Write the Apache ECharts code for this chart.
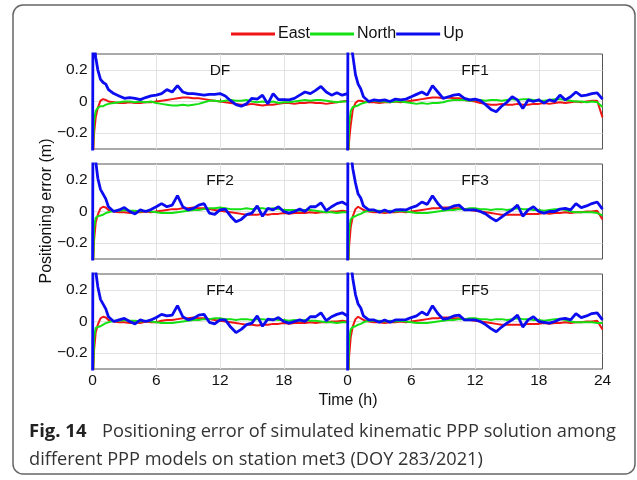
<!DOCTYPE html>
<html>
<head>
<meta charset="utf-8">
<script src="https://cdn.jsdelivr.net/npm/echarts@6/dist/echarts.min.js"></script>
<style>
  html, body { margin: 0; padding: 0; background: #fff; }
  #chart { width: 637px; height: 480px; }
</style>
</head>
<body>
<div id="chart"></div>
<script>
// time samples (h), denser at the start for the convergence part
const hours = [0, 0.05, 0.15, 0.3, 0.5, 0.75, 1, 1.25, 1.5,
  2, 2.5, 3, 3.5, 4, 4.5, 5, 5.5,
  6, 6.5, 7, 7.5, 8, 8.5, 9, 9.5,
  10, 10.5, 11, 11.5, 12, 12.5, 13, 13.5,
  14, 14.5, 15, 15.5, 16, 16.5, 17, 17.5,
  18, 18.5, 19, 19.5, 20, 20.5, 21, 21.5,
  22, 22.5, 23, 23.5, 24];

const xTicks = [0, 6, 12, 18, 24];
const yTicks = [-0.2, 0, 0.2];
const panelNames = ["DF", "FF1", "FF2", "FF3", "FF4", "FF5"];
const seriesNames = ["East", "North", "Up"];

// DF
const dfEast = [-0.6, -0.35, -0.2, -0.1, -0.04, 0.005, 0.015, 0.01, 0.0,
  -0.005, -0.01, -0.01, -0.005, -0.01, -0.01, -0.005, -0.005,
  0, 0.005, 0.01, 0.015, 0.02, 0.025, 0.025, 0.02,
  0.02, 0.015, 0.01, 0.005, 0, -0.005, -0.01, -0.015,
  -0.02, -0.02, -0.015, -0.02, -0.025, -0.02, -0.02, -0.015,
  -0.01, -0.01, -0.015, -0.01, -0.01, -0.005, -0.01, -0.01,
  -0.015, -0.01, -0.005, 0, 0.005];
const dfNorth = [-0.6, -0.3, -0.12, -0.06, -0.04, -0.03, -0.03, -0.02, -0.015,
  -0.01, -0.005, 0, 0, -0.005, 0, -0.005, 0,
  -0.01, -0.015, -0.02, -0.025, -0.025, -0.02, -0.025, -0.02,
  -0.015, -0.005, 0.005, 0.005, 0.0, 0.005, 0.01, 0.005,
  0.005, 0.01, 0.0, -0.005, 0, -0.005, 0, -0.01,
  -0.005, -0.005, 0, 0.005, 0.01, 0.005, 0.01, 0.01,
  0.005, 0, -0.005, 0, 0];
const dfUp = [-0.5, 0.6, 0.38, 0.28, 0.2, 0.14, 0.12, 0.11, 0.075,
  0.05, 0.035, 0.02, 0.025, 0.02, 0.012, 0.025, 0.035,
  0.04, 0.05, 0.075, 0.06, 0.1, 0.06, 0.05, 0.05,
  0.045, 0.04, 0.045, 0.045, 0.05, 0.035, 0.005, -0.02,
  -0.03, -0.015, 0.02, 0.015, 0.04, -0.015, 0.05, 0.012,
  0.012, 0.01, 0.02, 0.04, 0.06, 0.05, 0.07, 0.095,
  0.06, 0.04, 0.055, 0.04, 0.05];

// FF1
const ff1East = [-0.6, -0.4, -0.25, -0.15, -0.05, -0.01, 0.005, 0.005, 0.0,
  -0.005, -0.005, -0.01, -0.005, -0.005, 0, -0.005, 0,
  0.005, 0.01, 0.015, 0.02, 0.025, 0.025, 0.02, 0.025,
  0.02, 0.02, 0.01, 0.005, 0, -0.01, -0.015, -0.02,
  -0.02, -0.015, -0.02, -0.02, -0.015, -0.02, -0.02, -0.015,
  -0.015, -0.01, -0.015, -0.01, -0.005, -0.01, -0.005, 0,
  -0.005, 0, 0.005, 0.005, -0.1];
const ff1North = [-0.6, -0.4, -0.15, -0.06, -0.035, -0.03, -0.025, -0.015, -0.01,
  0, 0.005, 0, 0, -0.005, 0, 0, -0.005,
  -0.01, -0.015, -0.01, -0.015, -0.01, -0.01, -0.005, 0.005,
  0.01, 0.01, 0.01, 0.005, 0.01, 0.01, 0.005, 0.01,
  0.01, 0.005, 0.01, 0.015, 0.01, 0.015, 0.015, 0.01,
  0.005, 0.005, 0.01, 0.015, 0.015, 0.01, 0.005, 0,
  0, -0.005, 0, -0.005, -0.035];
const ff1Up = [-0.5, 0.7, 0.5, 0.38, 0.29, 0.17, 0.11, 0.08, 0.03,
  0.0, 0.01, 0.005, 0.01, 0.0, 0.015, 0.01, 0.015,
  0.03, 0.045, 0.06, 0.04, 0.1, 0.06, 0.02, 0.03,
  0.04, 0.045, 0.02, 0.01, 0.015, 0.005, -0.02, -0.05,
  -0.065, -0.03, -0.005, 0.03, 0.01, -0.045, 0.01, 0.0,
  0.01, -0.01, 0.01, 0.0, 0.04, 0.01, 0.03, 0.06,
  0.035, 0.04, 0.05, 0.055, 0.015];

// FF2
const ff2East = [-0.6, -0.35, -0.18, -0.07, -0.02, 0.02, 0.03, 0.025, 0.01,
  0, -0.005, -0.005, -0.01, -0.005, -0.005, 0, -0.005,
  0, 0.005, 0.01, 0.015, 0.015, 0.02, 0.02, 0.025,
  0.02, 0.02, 0.015, 0.01, 0.005, 0, -0.005, -0.01,
  -0.015, -0.02, -0.02, -0.02, -0.015, -0.02, -0.015, -0.015,
  -0.01, -0.015, -0.01, -0.01, -0.01, -0.005, -0.01, -0.005,
  -0.005, 0, 0, 0.005, 0];
const ff2North = [-0.6, -0.35, -0.1, -0.04, -0.03, -0.025, -0.02, -0.01, -0.005,
  0.005, 0.005, 0.01, 0.005, 0.005, 0, 0.005, 0,
  -0.005, -0.01, -0.01, -0.01, -0.005, 0, 0.005, 0.01,
  0.01, 0.015, 0.02, 0.02, 0.025, 0.02, 0.015, 0.015,
  0.015, 0.02, 0.015, 0.02, 0.02, 0.015, 0.02, 0.015,
  0.01, 0.01, 0.01, 0.005, 0.01, 0.01, 0.005, 0,
  -0.005, -0.005, -0.01, -0.005, -0.005];
const ff2Up = [-0.5, 0.7, 0.45, 0.32, 0.21, 0.14, 0.11, 0.08, 0.03,
  0.0, 0.01, 0.025, 0.0, -0.015, 0.01, 0.0, 0.012,
  0.03, 0.05, 0.03, 0.04, 0.1, 0.03, 0.01, 0.02,
  0.04, 0.05, -0.01, -0.018, 0.01, 0.015, -0.03, -0.065,
  -0.05, -0.02, -0.01, 0.035, -0.03, 0.02, 0.01, 0.03,
  0.0, -0.01, 0.0, 0.015, 0.0, 0.03, 0.03, 0.055,
  0.005, 0.03, 0.05, 0.06, 0.04];

// FF3
const ff3East = [-0.6, -0.4, -0.22, -0.1, -0.03, 0.015, 0.03, 0.02, 0.01,
  0, -0.005, -0.005, -0.01, -0.005, -0.005, 0, -0.005,
  0, 0.005, 0.01, 0.015, 0.02, 0.02, 0.025, 0.025,
  0.02, 0.02, 0.015, 0.01, 0.005, 0, -0.005, -0.01,
  -0.015, -0.02, -0.02, -0.02, -0.02, -0.02, -0.015, -0.015,
  -0.015, -0.01, -0.015, -0.01, -0.01, -0.005, -0.01, -0.005,
  -0.005, 0, 0, 0.005, -0.05];
const ff3North = [-0.6, -0.4, -0.12, -0.05, -0.035, -0.03, -0.02, -0.015, -0.005,
  0.005, 0.005, 0.005, 0, 0.005, 0, 0.005, 0,
  -0.005, -0.01, -0.01, -0.01, -0.005, 0, 0.005, 0.01,
  0.01, 0.015, 0.015, 0.02, 0.02, 0.015, 0.015, 0.01,
  0.015, 0.015, 0.01, 0.015, 0.02, 0.015, 0.015, 0.01,
  0.01, 0.005, 0.01, 0.015, 0.015, 0.01, 0.0, -0.005,
  -0.005, -0.005, -0.005, -0.01, -0.025];
const ff3Up = [-0.5, 0.7, 0.5, 0.38, 0.27, 0.18, 0.11, 0.085, 0.035,
  0.01, 0.01, -0.005, 0.01, -0.005, 0.01, 0.012, 0.01,
  0.025, 0.035, 0.06, 0.045, 0.1, 0.05, 0.015, 0.02,
  0.035, 0.04, 0.01, 0.01, 0.01, 0.0, -0.015, -0.04,
  -0.06, -0.035, -0.01, 0.01, 0.04, -0.03, 0.01, 0.03,
  0.0, -0.01, 0.0, 0.0, 0.015, 0.02, 0.01, 0.05,
  0.025, 0.035, 0.05, 0.06, 0.015];

// FF4
const ff4East = [-0.6, -0.35, -0.18, -0.07, -0.02, 0.02, 0.03, 0.025, 0.01,
  0, -0.005, -0.005, -0.01, -0.005, -0.01, 0, -0.005,
  -0.005, 0.005, 0.01, 0.01, 0.015, 0.02, 0.02, 0.025,
  0.02, 0.02, 0.015, 0.01, 0.005, 0, -0.005, -0.01,
  -0.015, -0.02, -0.02, -0.025, -0.02, -0.02, -0.015, -0.015,
  -0.01, -0.015, -0.01, -0.01, -0.01, -0.005, -0.01, -0.005,
  -0.005, 0, 0, 0.005, 0];
const ff4North = [-0.6, -0.35, -0.1, -0.04, -0.035, -0.03, -0.02, -0.01, -0.005,
  0.005, 0.005, 0.01, 0.005, 0.005, 0, 0.005, 0,
  -0.005, -0.01, -0.01, -0.01, -0.005, 0, 0.005, 0.01,
  0.01, 0.015, 0.015, 0.02, 0.02, 0.015, 0.015, 0.01,
  0.015, 0.015, 0.01, 0.015, 0.015, 0.01, 0.015, 0.01,
  0.01, 0.005, 0.01, 0.005, 0.01, 0.005, 0.005, 0,
  -0.005, -0.005, -0.01, -0.005, -0.005];
const ff4Up = [-0.5, 0.7, 0.45, 0.32, 0.22, 0.14, 0.11, 0.08, 0.03,
  0.0, 0.01, 0.02, 0.0, -0.015, 0.01, 0.0, 0.01,
  0.025, 0.045, 0.035, 0.04, 0.1, 0.03, 0.01, 0.02,
  0.04, 0.045, -0.005, -0.015, 0.01, 0.01, -0.035, -0.07,
  -0.05, -0.02, -0.01, 0.035, -0.03, 0.015, 0.01, 0.025,
  0.0, -0.01, 0.0, 0.01, 0.0, 0.03, 0.03, 0.055,
  0.005, 0.03, 0.045, 0.055, 0.035];

// FF5
const ff5East = [-0.6, -0.4, -0.22, -0.1, -0.03, 0.015, 0.03, 0.02, 0.01,
  0, -0.005, -0.005, -0.01, -0.005, -0.005, 0, -0.005,
  0, 0.005, 0.01, 0.015, 0.02, 0.02, 0.025, 0.025,
  0.02, 0.02, 0.015, 0.01, 0.005, 0, -0.005, -0.01,
  -0.015, -0.02, -0.02, -0.02, -0.02, -0.02, -0.015, -0.015,
  -0.015, -0.01, -0.015, -0.01, -0.01, -0.005, -0.01, -0.005,
  -0.005, 0, 0, 0.005, -0.05];
const ff5North = [-0.6, -0.4, -0.12, -0.05, -0.035, -0.03, -0.02, -0.015, -0.005,
  0.005, 0.005, 0.005, 0, 0.005, 0, 0.005, 0,
  -0.005, -0.01, -0.01, -0.01, -0.005, 0, 0.005, 0.01,
  0.01, 0.015, 0.015, 0.02, 0.02, 0.015, 0.015, 0.01,
  0.015, 0.015, 0.01, 0.015, 0.02, 0.015, 0.015, 0.01,
  0.01, 0.005, 0.01, 0.015, 0.015, 0.01, 0.0, -0.005,
  -0.005, -0.005, -0.005, -0.01, -0.01];
const ff5Up = [-0.5, 0.7, 0.5, 0.38, 0.27, 0.17, 0.11, 0.085, 0.035,
  0.01, 0.01, -0.005, 0.01, -0.005, 0.01, 0.01, 0.012,
  0.025, 0.035, 0.06, 0.04, 0.1, 0.05, 0.015, 0.02,
  0.035, 0.04, 0.01, 0.01, 0.01, 0.0, -0.02, -0.045,
  -0.065, -0.035, -0.01, 0.01, 0.04, -0.035, 0.01, 0.03,
  0.0, -0.005, -0.01, 0.0, 0.015, 0.02, 0.01, 0.05,
  0.025, 0.035, 0.05, 0.055, 0.01];

const panelData = [
  [dfEast, dfNorth, dfUp],
  [ff1East, ff1North, ff1Up],
  [ff2East, ff2North, ff2Up],
  [ff3East, ff3North, ff3Up],
  [ff4East, ff4North, ff4Up],
  [ff5East, ff5North, ff5Up]
];

const colors = ["#f01414", "#14e014", "#0c0cf0"];
const widths = [2, 2, 2.8];
const font = "Liberation Sans";
const captionFont = '"Open Sans", sans-serif';

const gridLeft = [92.5, 347.5];
const gridTop = [54, 164, 274];
const gridW = 255, gridH = 95;

const grids = [], xAxes = [], yAxes = [], series = [], graphics = [];

panelNames.forEach((name, i) => {
  const row = Math.floor(i / 2), col = i % 2;
  const isBottom = row === 2;
  grids.push({
    left: gridLeft[col], top: gridTop[row], width: gridW, height: gridH,
    show: true, borderColor: "#555", borderWidth: 1, backgroundColor: "#fff"
  });
  xAxes.push({
    gridIndex: i, type: "value", min: 0, max: 24, interval: 6,
    axisLine: { show: false },
    axisTick: { show: true, inside: true, length: 3, lineStyle: { color: "#555" } },
    axisLabel: {
      show: isBottom, margin: 4, color: "#111", fontSize: 15.5, fontFamily: font,
      formatter: v => (col === 0 && v === 24) ? "" : (xTicks.includes(v) ? String(v) : "")
    },
    splitLine: { show: true, showMinLine: false, showMaxLine: false, lineStyle: { color: "#e2e2e2", width: 1 } }
  });
  yAxes.push({
    gridIndex: i, type: "value", min: -0.3, max: 0.3, interval: 0.1,
    axisLine: { show: false },
    axisTick: { show: false },
    axisLabel: {
      show: col === 0, margin: 5, color: "#111", fontSize: 15.5, fontFamily: font,
      formatter: v => {
        const k = Math.round(v * 10);
        const hit = yTicks.find(t => Math.round(t * 10) === k);
        if (hit === undefined) return "";
        return hit < 0 ? "\u2212" + Math.abs(hit) : String(hit);
      }
    },
    splitLine: { show: true, lineStyle: { color: ["transparent", "#e2e2e2"], width: 1 } }
  });
  panelData[i].forEach((vals, s) => {
    series.push({
      name: seriesNames[s], type: "line", xAxisIndex: i, yAxisIndex: i,
      data: hours.map((h, k) => [h, vals[k]]),
      showSymbol: false, symbol: "none", clip: true,
      lineStyle: { color: colors[s], width: widths[s] },
      itemStyle: { color: colors[s] },
      z: 2 + s
    });
  });
  graphics.push({
    type: "text", x: gridLeft[col] + gridW / 2, y: gridTop[row] + 17, z: 100,
    style: { text: name, align: "center", verticalAlign: "middle", font: "15.5px " + font, fill: "#111" }
  });
});

// outer frame, axis names, caption
graphics.push(
  { type: "rect", z: -1, shape: { x: 13, y: 5, width: 622, height: 469, r: 10 },
    style: { fill: "none", stroke: "#666", lineWidth: 1.5 } },
  { type: "text", x: 47, y: 211, rotation: Math.PI / 2,
    style: { text: "Positioning error (m)", align: "center", verticalAlign: "middle", font: "16px " + font, fill: "#111" } },
  { type: "text", x: 348, y: 401,
    style: { text: "Time (h)", align: "center", verticalAlign: "middle", font: "16px " + font, fill: "#111" } },
  { type: "text", x: 29, y: 432,
    style: { text: "Fig. 14", align: "left", verticalAlign: "middle", font: "bold 18.5px " + captionFont, fill: "#222" } },
  { type: "text", x: 102, y: 432,
    style: { text: "Positioning error of simulated kinematic PPP solution among", align: "left", verticalAlign: "middle", font: "18.2px " + captionFont, fill: "#333" } },
  { type: "text", x: 29, y: 460,
    style: { text: "different PPP models on station met3 (DOY 283/2021)", align: "left", verticalAlign: "middle", font: "18.2px " + captionFont, fill: "#333" } }
);

const chart = echarts.init(document.getElementById("chart"), null, { renderer: "canvas" });
chart.setOption({
  animation: false,
  backgroundColor: "#fff",
  legend: {
    data: seriesNames, left: 231, top: 26, padding: 0,
    icon: "rect", itemWidth: 44, itemHeight: 3, itemGap: 0,
    textStyle: { fontSize: 16, fontFamily: font, color: "#111", padding: [0, 0, 0, -2] }
  },
  grid: grids,
  xAxis: xAxes,
  yAxis: yAxes,
  series: series,
  graphic: graphics
});
</script>
</body>
</html>
